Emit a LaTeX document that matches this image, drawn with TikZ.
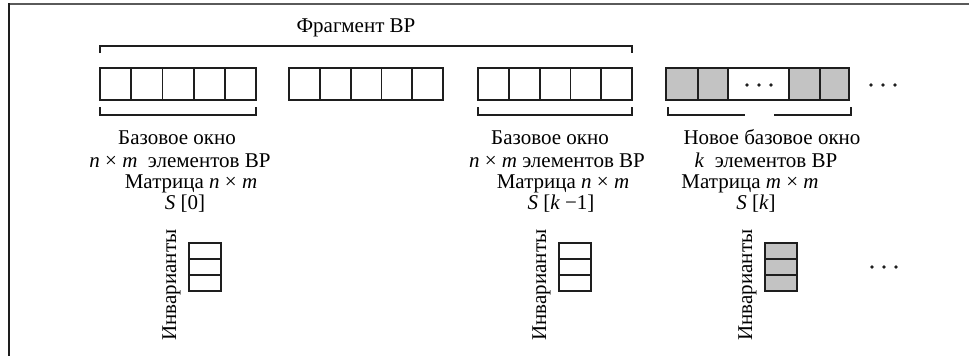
\documentclass[tikz,border=0pt]{standalone}
\usepackage{fontspec}
\setmainfont{Liberation Serif}
\definecolor{ink}{HTML}{1E1E1E}
\definecolor{shade}{HTML}{C3C3C3}
\definecolor{frame}{HTML}{5A5A5A}
\begin{document}
\begin{tikzpicture}[x=1pt,y=-1pt,
  box/.style={draw=ink, line width=1.8pt},
  brk/.style={draw=ink, line width=1.8pt},
  txt/.style={font=\fontsize{21}{25}\selectfont, inner sep=0pt, anchor=base},
  dot/.style={fill=ink, draw=none}]
\useasboundingbox (0,0) rectangle (969,356);

% frame
\draw[frame, line width=1.6pt] (8,3.8) -- (969,3.8);
\draw[ink, line width=1.8pt] (8.8,3) -- (8.8,356);

% title bracket
\node[txt] (frag) at (356,32) {Фрагмент ВР};
\draw[brk] (100,53) -- (100,46) -- (632,46) -- (632,53);

% three plain windows of five cells
\foreach \s/\w in {100/31.2, 289/30.8, 478/30.8}
  \foreach \i in {0,...,4}
    \draw[box] (\s+\i*\w,68) rectangle (\s+\i*\w+\w,100);

% new window
\draw[box, fill=shade] (666,68) rectangle (698,100);
\draw[box, fill=shade] (698,68) rectangle (728,100);
\draw[box] (728,68) rectangle (789,100);
\draw[box, fill=shade] (789,68) rectangle (820,100);
\draw[box, fill=shade] (820,68) rectangle (849,100);
\foreach \x in {747,759,771} \fill[dot] (\x,85) circle (1.9);
\foreach \x in {871,883,895} \fill[dot] (\x,85) circle (1.9);

% lower brackets
\draw[brk] (100,107) -- (100,115) -- (256,115) -- (256,107);
\draw[brk] (478,107) -- (478,115) -- (632,115) -- (632,107);
\draw[brk] (668,107) -- (668,115) -- (745,115);
\draw[brk] (774,115) -- (851,115) -- (851,107);

% captions
\node[txt] (a1) at (177,144) {Базовое окно};
\node[txt] (a2) at (180,167) {\textit{n} × \textit{m}\ \ элементов ВР};
\node[txt] (a3) at (191,188) {Матрица \textit{n} × \textit{m}};
\node[txt] (a4) at (185,209) {\textit{S} [0]};

\node[txt] (b1) at (550,144) {Базовое окно};
\node[txt] (b2) at (557,167) {\textit{n} × \textit{m} элементов ВР};
\node[txt] (b3) at (563,188) {Матрица \textit{n} × \textit{m}};
\node[txt] (b4) at (561,209) {\textit{S} [\textit{k} −1]};

\node[txt] (c1) at (772,144) {Новое базовое окно};
\node[txt] (c2) at (766,167) {\textit{k}\ \ элементов ВР};
\node[txt] (c3) at (750,188) {Матрица \textit{m} × \textit{m}};
\node[txt] (c4) at (756,209) {\textit{S} [\textit{k}]};

% invariant columns
\foreach \x/\f/\n in {189/white/1, 559/white/2, 765/shade/3} {
  \foreach \j in {0,1,2}
    \draw[box, fill=\f] (\x,243+\j*16) rectangle (\x+32,259+\j*16);
  \node[txt, rotate=90] (inv\n) at (\x-13,285) {Инварианты};
}
\foreach \x in {872,884,896} \fill[dot] (\x,267) circle (1.9);
\end{tikzpicture}
\end{document}
